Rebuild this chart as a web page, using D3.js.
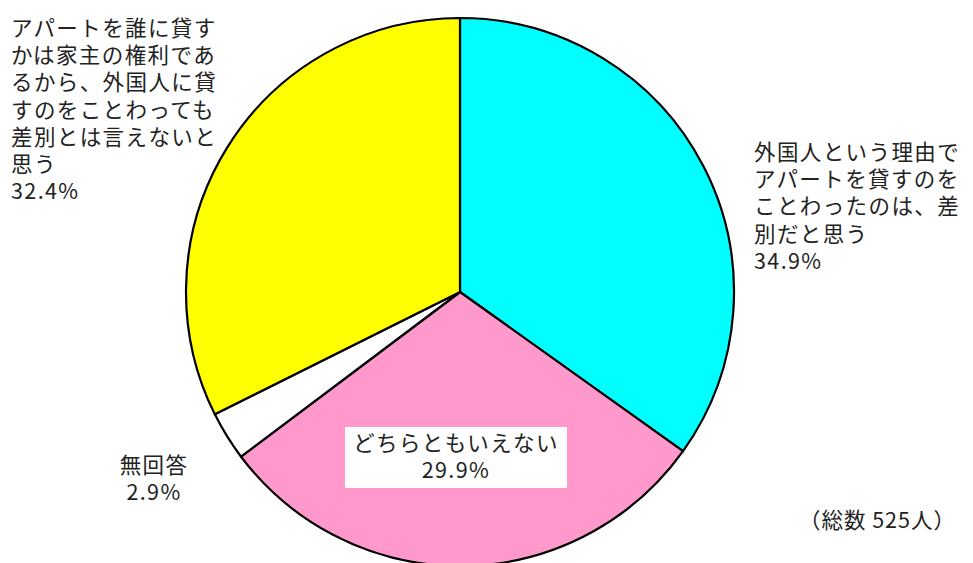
<!DOCTYPE html>
<html><head><meta charset="utf-8">
<script src="https://cdn.jsdelivr.net/npm/d3@7"></script>
<style>body{margin:0;background:#fff}svg{display:block}text{font-family:"Noto Sans CJK JP","Noto Sans",sans-serif;fill:#222}</style>
</head><body>
<svg id="c" width="973" height="563"></svg>
<script>
const categories = ["外国人という理由でアパートを貸すのをことわったのは、差別だと思う","どちらともいえない","無回答","アパートを誰に貸すかは家主の権利であるから、外国人に貸すのをことわっても差別とは言えないと思う"];
const values = [34.9, 29.9, 2.9, 32.4];
const colors = ["#00ffff","#ff99cc","#ffffff","#ffff00"];
const labelLines = [
  ["外国人という理由で","アパートを貸すのを","ことわったのは、差","別だと思う","34.9%"],
  ["どちらともいえない","29.9%"],
  ["無回答","2.9%"],
  ["アパートを誰に貸す","かは家主の権利であ","るから、外国人に貸","すのをことわっても","差別とは言えないと","思う","32.4%"]
];
const totalLabel = "（総数 525人）";

const svg = d3.select("#c");
const cx = 460, cy = 292, r = 274;
const pie = d3.pie().sort(null).value(d => d)(values);
const arc = d3.arc().innerRadius(0).outerRadius(r);
const g = svg.append("g").attr("transform", `translate(${cx},${cy})`);
g.selectAll("path").data(pie).enter().append("path")
  .attr("d", arc).attr("fill", (d,i) => colors[i])
  .attr("stroke", "#000").attr("stroke-width", 2.2).attr("stroke-linejoin","round");

const fs = 21.5, lh = 27.2;
function block(lines, x, y, anchor){
  const t = svg.append("text").attr("font-size", fs).attr("text-anchor", anchor).attr("letter-spacing", 1.4);
  lines.forEach((s,i) => t.append("tspan").attr("x", x).attr("y", y + i*lh).text(s));
  return t;
}
block(labelLines[0], 754, 160, "start");
svg.append("rect").attr("x", 345).attr("y", 427).attr("width", 222).attr("height", 61).attr("fill", "#fff");
block(labelLines[1], 456, 451, "middle");
block(labelLines[2], 154, 473, "middle");
block(labelLines[3], 11, 36, "start");
svg.append("text").attr("font-size", fs).attr("letter-spacing", 1).attr("x", 956).attr("y", 528).attr("text-anchor","end").text(totalLabel);
</script>
</body></html>
